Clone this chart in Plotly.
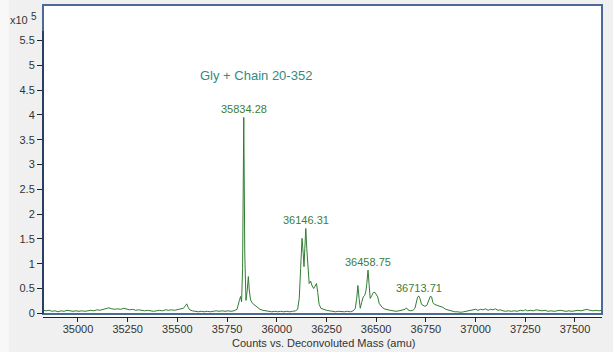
import plotly.graph_objects as go

# Spectrum (mass in amu, counts in units of 10^5)
mass = [
    34825, 34840, 34855, 34870, 34885, 34900, 34915, 34930, 34945, 34960, 34975, 34990,
    35005, 35020, 35035, 35050, 35065, 35080, 35095, 35110, 35125, 35140, 35155, 35170,
    35185, 35200, 35215, 35230, 35245, 35260, 35275, 35290, 35305, 35320, 35335, 35350,
    35365, 35380, 35395, 35410, 35425, 35440, 35455, 35470, 35485, 35500, 35515, 35530,
    35540, 35547, 35554, 35562, 35575, 35590, 35605, 35620, 35635, 35650, 35665, 35680,
    35695, 35710, 35725, 35740, 35755, 35770, 35785, 35800,
    35806, 35812, 35818, 35823, 35828, 35834, 35839, 35845, 35851, 35857, 35862, 35868,
    35878, 35890, 35902, 35915, 35930, 35945, 35960, 35975, 35990, 36005, 36020, 36035,
    36050, 36065, 36080, 36095, 36105, 36113, 36120, 36127, 36133, 36137, 36141, 36146,
    36151, 36157, 36163, 36170, 36178, 36186, 36193, 36200, 36206, 36213, 36222, 36234,
    36250, 36265, 36280, 36295, 36310, 36325, 36340, 36355, 36370, 36385, 36395, 36402,
    36408, 36414, 36420, 36427, 36435, 36442, 36448, 36453, 36459, 36464, 36470, 36478,
    36486, 36494, 36502, 36508, 36515, 36522, 36530, 36540, 36555, 36570, 36585, 36600,
    36615, 36630, 36645, 36652, 36660, 36672, 36685, 36695, 36702, 36708, 36714, 36720,
    36728, 36737, 36745, 36755, 36765, 36772, 36779, 36785, 36793, 36802, 36812, 36822,
    36835, 36850, 36865, 36880, 36895, 36910, 36925, 36940, 36955, 36970, 36985, 37000,
    37012, 37025, 37038, 37050, 37063, 37075, 37088, 37100, 37113, 37125, 37138, 37150,
    37165, 37180, 37195, 37210, 37225, 37240, 37250, 37262, 37275, 37290, 37305, 37320,
    37335, 37350, 37365, 37380, 37395, 37410, 37425, 37440, 37455, 37470, 37485, 37500,
    37515, 37530, 37545, 37560, 37575, 37590, 37605, 37620, 37635,
]
counts = [
    0.06, 0.05, 0.06, 0.04, 0.05, 0.03, 0.05, 0.04, 0.06, 0.05, 0.04, 0.05,
    0.04, 0.05, 0.04, 0.05, 0.06, 0.05, 0.07, 0.06, 0.08, 0.09, 0.11, 0.09,
    0.08, 0.09, 0.08, 0.10, 0.08, 0.07, 0.08, 0.06, 0.07, 0.06, 0.05, 0.06,
    0.05, 0.04, 0.05, 0.06, 0.05, 0.07, 0.06, 0.07, 0.06, 0.07, 0.08, 0.10,
    0.15, 0.19, 0.12, 0.07, 0.05, 0.04, 0.03, 0.04, 0.03, 0.04, 0.03, 0.04,
    0.05, 0.04, 0.05, 0.04, 0.05, 0.04, 0.05, 0.08,
    0.15, 0.26, 0.34, 0.23, 0.90, 3.95, 1.20, 0.26, 0.45, 0.74, 0.45, 0.27,
    0.20, 0.16, 0.12, 0.08, 0.06, 0.05, 0.04, 0.03, 0.04, 0.03, 0.04, 0.03,
    0.04, 0.03, 0.04, 0.05, 0.08, 0.30, 0.90, 1.51, 1.20, 0.94, 1.30, 1.71,
    1.30, 0.81, 0.60, 0.65, 0.55, 0.50, 0.56, 0.60, 0.42, 0.18, 0.10, 0.08,
    0.06, 0.05, 0.04, 0.03, 0.04, 0.03, 0.03, 0.04, 0.03, 0.05, 0.10, 0.30,
    0.56, 0.30, 0.10, 0.22, 0.33, 0.36, 0.44, 0.60, 0.87, 0.60, 0.30, 0.36,
    0.42, 0.42, 0.38, 0.33, 0.20, 0.15, 0.12, 0.09, 0.07, 0.06, 0.05, 0.04,
    0.05, 0.06, 0.08, 0.11, 0.07, 0.05, 0.06, 0.10, 0.22, 0.32, 0.35, 0.30,
    0.18, 0.15, 0.14, 0.16, 0.28, 0.34, 0.33, 0.22, 0.18, 0.17, 0.16, 0.15,
    0.12, 0.08, 0.06, 0.04, 0.03, 0.03, 0.02, 0.03, 0.04, 0.05, 0.06, 0.08,
    0.06, 0.08, 0.07, 0.09, 0.06, 0.08, 0.07, 0.09, 0.06, 0.07, 0.05, 0.04,
    0.05, 0.04, 0.05, 0.04, 0.06, 0.05, 0.07, 0.05, 0.06, 0.05, 0.07, 0.06,
    0.05, 0.06, 0.04, 0.05, 0.04, 0.05, 0.06, 0.05, 0.04, 0.05, 0.04, 0.05,
    0.06, 0.05, 0.06, 0.08, 0.06, 0.05, 0.06, 0.05, 0.06,
]

peak_mass = [35834.28, 36146.31, 36458.75, 36713.71]
peak_height = [3.95, 1.71, 0.87, 0.35]
peak_labels = ["35834.28", "36146.31", "36458.75", "36713.71"]

x_ticks = [35000, 35250, 35500, 35750, 36000, 36250, 36500, 36750, 37000, 37250, 37500]
x_tick_text = ["35000", "35250", "35500", "35750", "36000", "36250", "36500",
               "36750", "37000", "37250", "37500"]
y_ticks = [0, 0.5, 1, 1.5, 2, 2.5, 3, 3.5, 4, 4.5, 5, 5.5]
y_tick_text = ["0", "0.5", "1", "1.5", "2", "2.5", "3", "3.5", "4", "4.5", "5", "5.5"]

title_text = "Gly + Chain 20-352"
x_title = "Counts vs. Deconvoluted Mass (amu)"

FONT = "Liberation Sans, Arial, sans-serif"
LINE_GREEN = "#2f7d32"
LABEL_GREEN = "#3b7d3b"
TEXT = "#333333"
BOX = "#4a6a98"

fig = go.Figure()
fig.add_trace(go.Scatter(
    x=mass, y=counts, mode="lines",
    line=dict(color=LINE_GREEN, width=1),
    hoverinfo="skip", showlegend=False,
))

annotations = []
for m, h, t in zip(peak_mass, peak_height, peak_labels):
    annotations.append(dict(
        x=m, y=h, xref="x", yref="y", text=t, showarrow=False,
        yanchor="middle", xanchor="center", yshift=8,
        font=dict(family=FONT, size=11, color=LABEL_GREEN),
    ))

# plot area: x 43..602 px, y 5..317 px (height 312)
annotations.append(dict(
    x=0.381, y=0.773, xref="paper", yref="paper", text=title_text, showarrow=False,
    xanchor="center", yanchor="middle",
    font=dict(family=FONT, size=13, color="#338a7e"),
))
annotations.append(dict(
    x=0.501, y=-0.082, xref="paper", yref="paper", text=x_title, showarrow=False,
    xanchor="center", yanchor="middle",
    font=dict(family=FONT, size=11, color=TEXT),
))
annotations.append(dict(
    x=-0.062, y=0.952, xref="paper", yref="paper", text="x10", showarrow=False,
    xanchor="left", yanchor="middle",
    font=dict(family=FONT, size=11, color=TEXT),
))
annotations.append(dict(
    x=-0.025, y=0.962, xref="paper", yref="paper", text="5", showarrow=False,
    xanchor="left", yanchor="middle",
    font=dict(family=FONT, size=10, color=TEXT),
))

shapes = [
    # lighter strip at the left edge of the window
    dict(type="rect", xref="paper", yref="paper", x0=-0.08, x1=-0.061, y0=-0.2, y1=1.05,
         fillcolor="#f8f8f8", line=dict(width=0), layer="below"),
    # plot frame
    dict(type="rect", xref="paper", yref="paper", x0=0, x1=1, y0=0.0096, y1=1,
         line=dict(color=BOX, width=2), fillcolor="rgba(0,0,0,0)"),
    # y axis line
    dict(type="line", xref="paper", yref="paper", x0=0, x1=0, y0=0.0096, y1=0.917,
         line=dict(color="#2a3f66", width=2)),
]

fig.update_layout(
    width=613, height=352,
    margin=dict(l=43, r=11, t=5, b=35),
    paper_bgcolor="#f0f0f0", plot_bgcolor="#ffffff",
    font=dict(family=FONT, size=11, color=TEXT),
    annotations=annotations, shapes=shapes,
    showlegend=False,
)
fig.update_xaxes(
    range=[34824, 37636], tickvals=x_ticks, ticktext=x_tick_text,
    ticks="outside", ticklen=4, ticklabelstandoff=-2,
    tickcolor="#222222", showline=True, linecolor="#222222", linewidth=1,
    showgrid=False, zeroline=False,
    tickfont=dict(family=FONT, size=11, color=TEXT),
)
fig.update_yaxes(
    range=[-0.075, 6.216], tickvals=y_ticks, ticktext=y_tick_text,
    ticks="outside", ticklen=5, tickcolor="#222222",
    showline=False, showgrid=False, zeroline=False,
    tickfont=dict(family=FONT, size=11, color=TEXT),
)

fig.write_html("out.html")
